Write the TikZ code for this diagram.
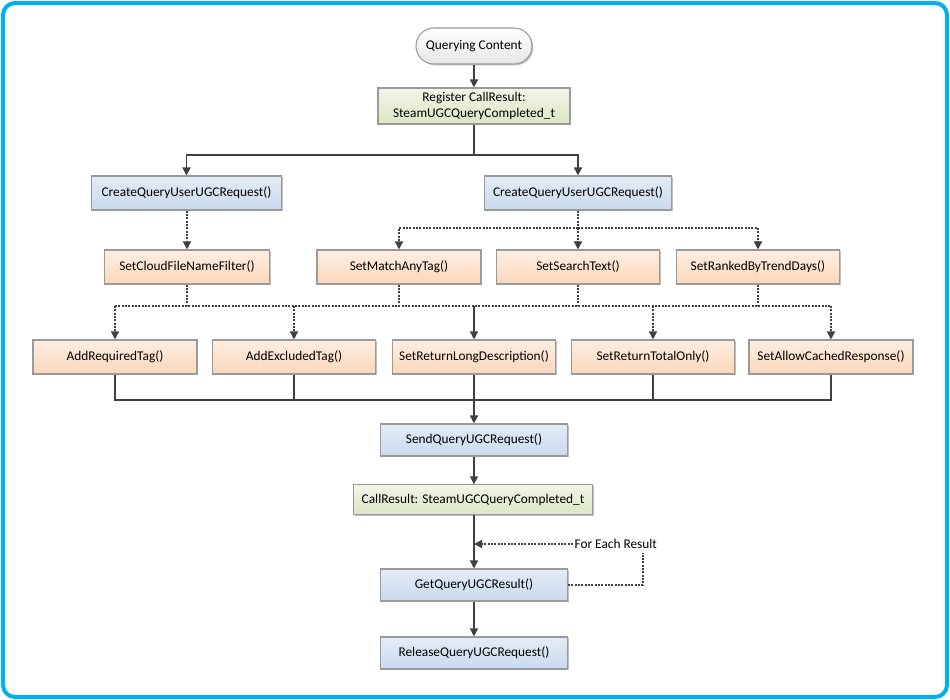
\documentclass[tikz,border=0pt]{standalone}
\usepackage{fontspec}
\setmainfont{Carlito}
\usetikzlibrary{arrows.meta,shadows}
\definecolor{frame}{HTML}{00B0F0}
\definecolor{lncol}{HTML}{404040}
\definecolor{bdcol}{HTML}{9A9A9A}
\definecolor{orT}{HTML}{FDEEE2}
\definecolor{orB}{HTML}{FAD7BA}
\definecolor{blT}{HTML}{E4ECF6}
\definecolor{blB}{HTML}{C9DAEE}
\definecolor{grT}{HTML}{F1F5E8}
\definecolor{grB}{HTML}{DCE6C4}
\definecolor{gyT}{HTML}{FFFFFF}
\definecolor{gyB}{HTML}{E6E6E6}
\tikzset{
  x=0.75pt, y=-0.75pt,
  every node/.style={font=\fontsize{10pt}{12pt}\selectfont, text=black},
  basebox/.style={draw=bdcol, line width=0.8pt, inner sep=0pt, align=center,
    drop shadow={shadow xshift=1pt, shadow yshift=-1pt, opacity=0.25, fill=black}},
  orbox/.style={basebox, top color=orT, bottom color=orB},
  blbox/.style={basebox, top color=blT, bottom color=blB},
  grbox/.style={basebox, top color=grT, bottom color=grB},
  startbox/.style={basebox, rounded corners=13.5pt, top color=gyT, bottom color=gyB},
  ln/.style={draw=lncol, line width=1.1pt},
  arr/.style={ln, -{Triangle[length=6pt,width=6pt]}},
  dl/.style={ln, dash pattern=on 1.5pt off 1pt},
  darr/.style={dl, -{Triangle[length=6pt,width=6pt]}},
}
\begin{document}
\begin{tikzpicture}
\useasboundingbox (0,0) rectangle (950,700);
\draw[frame, line width=3pt, rounded corners=9pt] (3,3) rectangle (947,697);

% nodes (sizes in px*0.75)
\node[startbox, minimum width=87pt, minimum height=27pt] (start) at (474,46) {Querying Content};
\node[grbox, minimum width=144pt, minimum height=27pt] (reg) at (474,106) {Register CallResult:\\SteamUGCQueryCompleted\_t};
\node[blbox, minimum width=142.5pt, minimum height=25.5pt] (cl) at (186.5,193) {CreateQueryUserUGCRequest()};
\node[blbox, minimum width=140pt, minimum height=25.5pt] (cr) at (578,193) {CreateQueryUserUGCRequest()};

\node[orbox, minimum width=124pt, minimum height=25.5pt] (cloud) at (187,267) {SetCloudFileNameFilter()};
\node[orbox, minimum width=123pt, minimum height=25.5pt] (match) at (399,267) {SetMatchAnyTag()};
\node[orbox, minimum width=122pt, minimum height=25.5pt] (search) at (578,267) {SetSearchText()};
\node[orbox, minimum width=122pt, minimum height=25.5pt] (ranked) at (758,267) {SetRankedByTrendDays()};

\node[orbox, minimum width=123pt, minimum height=25.5pt] (req) at (115,357) {AddRequiredTag()};
\node[orbox, minimum width=122pt, minimum height=25.5pt] (exc) at (294,357) {AddExcludedTag()};
\node[orbox, minimum width=122pt, minimum height=25.5pt] (long) at (474,357) {SetReturnLongDescription()};
\node[orbox, minimum width=122pt, minimum height=25.5pt] (total) at (653,357) {SetReturnTotalOnly()};
\node[orbox, minimum width=123pt, minimum height=25.5pt] (cache) at (831,357) {SetAllowCachedResponse()};

\node[blbox, minimum width=140pt, minimum height=24pt] (send) at (474,440) {SendQueryUGCRequest()};
\node[grbox, minimum width=179pt, minimum height=22pt] (cres) at (473,499.5) {CallResult: SteamUGCQueryCompleted\_t};
\node[blbox, minimum width=140pt, minimum height=24pt] (get) at (474,585) {GetQueryUGCResult()};
\node[blbox, minimum width=140pt, minimum height=24pt] (rel) at (474,653) {ReleaseQueryUGCRequest()};
\node[inner sep=1pt, anchor=west] (each) at (573,544) {For Each Result};

\coordinate (j1) at (474,544);
\coordinate (lp) at (643,585);

% connectors
\draw[arr] (start) -- (reg);
\draw[ln] (reg.south) -- (474,155);
\draw[arr] (474,155) -| (cl.north);
\draw[arr] (474,155) -| (cr.north);

\draw[darr] (cloud.north |- cl.south) -- (cloud.north);
\draw[dl] (cr.south) -- (578,228);
\draw[darr] (578,228) -| (match.north);
\draw[darr] (578,228) -- (search.north);
\draw[darr] (578,228) -| (ranked.north);

\draw[dl] (cloud.south) -- (187,306);
\draw[dl] (match.south) -- (399,306);
\draw[dl] (search.south) -- (578,306);
\draw[dl] (ranked.south) -- (758,306);
\draw[dl] (115,306) -- (831,306);
\draw[darr] (115,306) -- (req.north);
\draw[darr] (294,306) -- (exc.north);
\draw[arr] (474,306) -- (long.north);
\draw[darr] (653,306) -- (total.north);
\draw[darr] (831,306) -- (cache.north);

\draw[ln] (req.south) |- (474,400);
\draw[ln] (cache.south) |- (474,400);
\draw[ln] (exc.south) -- (294,400);
\draw[ln] (total.south) -- (653,400);
\draw[ln] (long.south) -- (474,400);
\draw[arr] (474,400) -- (send.north);

\draw[arr] (send.south) -- (send.south |- cres.north);
\draw[arr] (get.north |- cres.south) -- (get.north);
\draw[arr] (get) -- (rel);

\draw[dl] (get.east) -- (lp) -- (643,553);
\draw[darr] (each.west) -- (j1);
\end{tikzpicture}
\end{document}
